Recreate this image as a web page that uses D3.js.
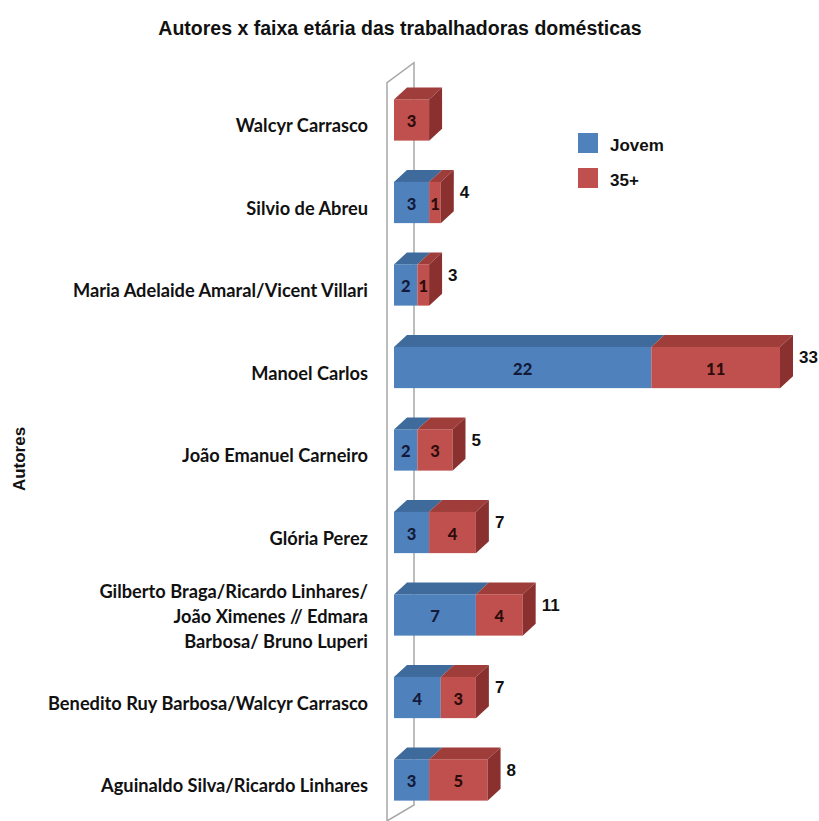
<!DOCTYPE html>
<html><head><meta charset="utf-8">
<script src="https://cdn.jsdelivr.net/npm/d3@7/dist/d3.min.js"></script>
<style>body{margin:0;background:#fff}svg{display:block}</style>
</head><body>
<svg id="chart" width="819" height="821"></svg>
<script>
// ---- data ----
const categories = ["Walcyr Carrasco","Silvio de Abreu","Maria Adelaide Amaral/Vicent Villari","Manoel Carlos","João Emanuel Carneiro","Glória Perez","Gilberto Braga/Ricardo Linhares/ João Ximenes // Edmara Barbosa/ Bruno Luperi","Benedito Ruy Barbosa/Walcyr Carrasco","Aguinaldo Silva/Ricardo Linhares"];
const categoryLines = [["Walcyr Carrasco"],["Silvio de Abreu"],["Maria Adelaide Amaral/Vicent Villari"],["Manoel Carlos"],["João Emanuel Carneiro"],["Glória Perez"],["Gilberto Braga/Ricardo Linhares/","João Ximenes // Edmara","Barbosa/ Bruno Luperi"],["Benedito Ruy Barbosa/Walcyr Carrasco"],["Aguinaldo Silva/Ricardo Linhares"]];
const jovem  = [0, 3, 2, 22, 2, 3, 7, 4, 3];
const mais35 = [3, 1, 1, 11, 3, 4, 4, 3, 5];
const seriesNames = ["Jovem", "35+"];
const chartTitle = "Autores x faixa etária das trabalhadoras domésticas";
const yAxisTitle = "Autores";

// ---- setup ----
const svg = d3.select("#chart");
const rows = categories.map((c, i) => ({cat: c, "Jovem": jovem[i], "35+": mais35[i]}));
const stacked = d3.stack().keys(seriesNames)(rows);

const x = d3.scaleLinear().domain([0, 33]).range([394, 780]);
const y = d3.scaleBand().domain(categories).range([78.75, 821.25]).paddingInner(0.5).paddingOuter(0.25);
const dx = 13, dy = -12;
const colors = {
  "Jovem": {front: "#4F81BD", top: "#3E6A9C", side: "#34597F", text: "#131a3a"},
  "35+":   {front: "#C0504D", top: "#9E3D3A", side: "#8A302E", text: "#2e0c0c"}
};
const LABEL_FONT = "Lato, 'Open Sans', sans-serif";
const ARIAL = "'Liberation Sans', Arial, sans-serif";

// ---- wall ----
const wf = x(0) - 7, wb = wf + 27;
const wTop = y.range()[0] + 4;
svg.append("path")
  .attr("d", `M${wf},${821} L${wf},${wTop} L${wb},${wTop - 20} L${wb},${805} L${wf},${821}`)
  .attr("fill", "none").attr("stroke", "#a8a8a8").attr("stroke-width", 1.5);

// ---- bars ----
const bars = svg.append("g");
categories.forEach((cat, i) => {
  const t = y(cat), b = t + y.bandwidth();
  const segs = stacked.map(s => ({key: s.key, v0: s[i][0], v1: s[i][1]})).filter(d => d.v1 > d.v0);
  const g = bars.append("g");
  segs.forEach(d => {
    const x0 = x(d.v0), x1 = x(d.v1);
    g.append("path").attr("d", `M${x0},${t} L${x1},${t} L${x1+dx},${t+dy} L${x0+dx},${t+dy} Z`)
      .attr("fill", colors[d.key].top);
  });
  segs.forEach(d => {
    g.append("rect").attr("x", x(d.v0)).attr("y", t).attr("width", x(d.v1) - x(d.v0)).attr("height", y.bandwidth())
      .attr("fill", colors[d.key].front);
  });
  const last = segs[segs.length - 1];
  const xe = x(last.v1);
  g.append("path").attr("d", `M${xe},${t} L${xe+dx},${t+dy} L${xe+dx},${b+dy} L${xe},${b} Z`)
    .attr("fill", colors[last.key].side);
  segs.forEach(d => {
    g.append("text").attr("x", (x(d.v0) + x(d.v1)) / 2).attr("y", t + y.bandwidth() / 2 + 1)
      .attr("text-anchor", "middle").attr("dominant-baseline", "central")
      .attr("font-family", LABEL_FONT).attr("font-weight", 900).attr("font-size", 16.5)
      .attr("fill", colors[d.key].text).text(d.v1 - d.v0);
  });
  if (segs.length > 1) {
    g.append("text").attr("x", xe + dx + 6).attr("y", t + y.bandwidth() / 2 - 10)
      .attr("dominant-baseline", "central")
      .attr("font-family", ARIAL).attr("font-weight", "bold").attr("font-size", 17)
      .attr("fill", "#111").text(last.v1);
  }
});

// ---- category labels ----
const labG = svg.append("g");
const labelNodes = [];
categories.forEach((cat, i) => {
  const lines = categoryLines[i];
  const n = lines.length;
  const c = y(cat) + y.bandwidth() / 2;
  lines.forEach((ln, k) => {
    const tx = labG.append("text").attr("x", 368)
      .attr("y", c + 12 - (n - 1) * 2 + (k - (n - 1) / 2) * 25)
      .attr("text-anchor", "end")
      .attr("font-family", LABEL_FONT).attr("font-weight", "bold").attr("font-size", 19.5)
      .attr("fill", "#111").text(ln);
    labelNodes.push(tx);
  });
});
const ref = labelNodes.find(t => t.text() === "Benedito Ruy Barbosa/Walcyr Carrasco");
const factor = 320 / ref.node().getComputedTextLength();
labelNodes.forEach(t => {
  const w = t.node().getComputedTextLength();
  t.attr("textLength", w * factor).attr("lengthAdjust", "spacingAndGlyphs");
});

// ---- titles ----
svg.append("text").attr("x", 400).attr("y", 35).attr("text-anchor", "middle")
  .attr("font-family", ARIAL).attr("font-weight", "bold").attr("font-size", 19.5)
  .attr("fill", "#111").text(chartTitle);
svg.append("text").attr("transform", "translate(25,459) rotate(-90)").attr("text-anchor", "middle")
  .attr("font-family", ARIAL).attr("font-weight", "bold").attr("font-size", 17)
  .attr("fill", "#111").text(yAxisTitle);

// ---- legend ----
const leg = svg.append("g");
seriesNames.forEach((s, k) => {
  const yy = 133 + k * 35;
  leg.append("rect").attr("x", 578).attr("y", yy).attr("width", 20).attr("height", 20).attr("fill", colors[s].front);
  leg.append("text").attr("x", 610).attr("y", yy + 17.5)
    .attr("font-family", ARIAL).attr("font-weight", "bold").attr("font-size", 17)
    .attr("fill", "#111").text(s);
});
</script>
</body></html>
